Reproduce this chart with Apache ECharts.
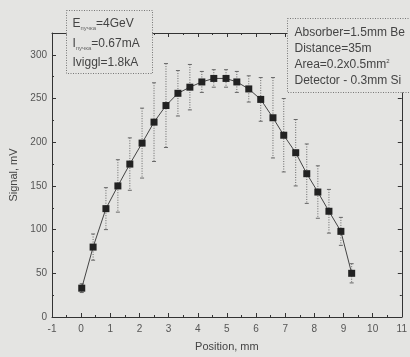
<!DOCTYPE html>
<html>
<head>
<meta charset="utf-8">
<script src="https://cdn.jsdelivr.net/npm/echarts@6/dist/echarts.min.js"></script>
<style>
  html, body { margin: 0; padding: 0; background: #e4e4e2; }
  #chart { width: 410px; height: 357px; }
</style>
</head>
<body>
<div id="chart"></div>
<script>
// measured positions (mm) and signal (mV), with error half-widths
const position = [0.02, 0.41, 0.85, 1.26, 1.67, 2.09, 2.50, 2.91, 3.32, 3.73, 4.14, 4.55,
                  4.97, 5.34, 5.75, 6.16, 6.58, 6.95, 7.36, 7.74, 8.12, 8.50, 8.91, 9.28]
const signal = [33, 80, 124, 150, 175, 199, 223, 242, 256, 263, 269, 273,
                273, 269, 261, 249, 228, 208, 188, 164, 143, 121, 98, 50]
const errBar = [5, 15, 24, 30, 30, 40, 45, 48, 26, 26, 12, 10,
                10, 12, 15, 25, 46, 42, 38, 34, 30, 25, 16, 11]

const leftNotes = ['E{s|пучка}=4GeV', 'I{s|пучка}=0.67mA', 'Iviggl=1.8kA']
const rightNotes = ['Absorber=1.5mm Be', 'Distance=35m', 'Area=0.2x0.5mm{u|2}', 'Detector - 0.3mm Si']

const ink = '#333'
const paper = '#e4e4e2'
const font = 'Liberation Sans'

const points = position.map((x, i) => [x, signal[i]])
const bars = position.map((x, i) => [x, signal[i] - errBar[i], signal[i] + errBar[i]])

const axisCommon = {
    axisLine: { onZero: false, lineStyle: { color: ink, width: 1 } },
    axisTick: { inside: true, length: 4, lineStyle: { color: ink } },
    minorTick: { show: true, splitNumber: 2, length: 2, lineStyle: { color: ink } },
    splitLine: { show: false },
}

const option = {
    backgroundColor: paper,
    animation: false,
    grid: { left: 52, right: 8, top: 33, bottom: 36 },
    xAxis: [{
        type: 'value', min: -1, max: 11, interval: 1,
        ...axisCommon,
        axisLabel: { color: '#555', fontSize: 10, fontFamily: font, margin: 7 },
        name: 'Position, mm', nameLocation: 'middle', nameGap: 24,
        nameTextStyle: { color: '#444', fontSize: 11, fontFamily: font },
    }, {
        type: 'value', position: 'top', min: -1, max: 11, interval: 1,
        ...axisCommon,
        axisLabel: { show: false },
    }],
    yAxis: [{
        type: 'value', min: 0, max: 325, interval: 50,
        ...axisCommon,
        axisLabel: { color: '#555', fontSize: 10, fontFamily: font, margin: 5, showMaxLabel: false },
        name: 'Signal, mV', nameLocation: 'middle', nameGap: 32,
        nameTextStyle: { color: '#444', fontSize: 11, fontFamily: font },
    }, {
        type: 'value', position: 'right', min: 0, max: 325, interval: 50,
        ...axisCommon,
        axisLabel: { show: false },
    }],
    series: [{
        type: 'custom',
        data: bars,
        z: 1,
        renderItem: (params, api) => {
            const x = api.value(0)
            const top = api.coord([x, api.value(2)])
            const bot = api.coord([x, api.value(1)])
            const cap = 2
            const st = { stroke: '#666', lineWidth: 1, lineDash: [1, 1.5] }
            const capSt = { stroke: '#666', lineWidth: 1 }
            return {
                type: 'group',
                children: [
                    { type: 'line', shape: { x1: top[0], y1: top[1], x2: bot[0], y2: bot[1] }, style: st },
                    { type: 'line', shape: { x1: top[0] - cap, y1: top[1], x2: top[0] + cap, y2: top[1] }, style: capSt },
                    { type: 'line', shape: { x1: bot[0] - cap, y1: bot[1], x2: bot[0] + cap, y2: bot[1] }, style: capSt },
                ]
            }
        }
    }, {
        type: 'line',
        data: points,
        z: 3,
        symbol: 'rect',
        symbolSize: 7,
        itemStyle: { color: '#222' },
        lineStyle: { color: '#444', width: 1 },
    }],
    graphic: [{
        type: 'group', left: 66, top: 10,
        children: [
            { type: 'rect', z: 100, shape: { x: 0, y: 0, width: 86, height: 63 },
              style: { fill: paper, stroke: '#777', lineWidth: 1, lineDash: [1, 1.5] } },
            ...leftNotes.map((t, i) => ({
                type: 'text', z: 101, x: 6, y: 6 + i * 20,
                style: { text: t, fill: '#444', fontSize: 12, fontFamily: font,
                         rich: { s: { fontSize: 6, fill: '#666', padding: [9, 0, 0, 0] } } }
            }))
        ]
    }, {
        type: 'group', left: 287, top: 18,
        children: [
            { type: 'rect', z: 100, shape: { x: 0, y: 0, width: 130, height: 74 },
              style: { fill: paper, stroke: '#777', lineWidth: 1, lineDash: [1, 1.5] } },
            ...rightNotes.map((t, i) => ({
                type: 'text', z: 101, x: 7, y: 8 + i * 16,
                style: { text: t, fill: '#444', fontSize: 12, fontFamily: font,
                         rich: { u: { fontSize: 6, fill: '#444', padding: [0, 0, 7, 0] } } }
            }))
        ]
    }]
}

const chart = echarts.init(document.getElementById('chart'))
chart.setOption(option)
</script>
</body>
</html>
